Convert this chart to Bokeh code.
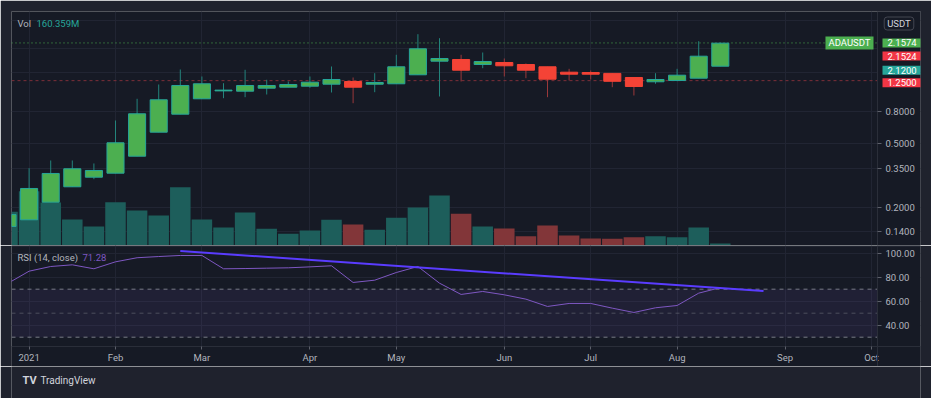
from bokeh.plotting import figure
from bokeh.layouts import column
from bokeh.models import (Range1d, LinearScale, FixedTicker, PrintfTickFormatter, Span,
                          Label, BoxAnnotation, ColumnDataSource, Grid)
from bokeh.embed import file_html
from bokeh.resources import INLINE

# ---------------- data (weekly Heikin-Ashi candles, ADAUSDT) ----------------
weeks = ["2020-12-28", "2021-01-04", "2021-01-11", "2021-01-18", "2021-01-25", "2021-02-01",
         "2021-02-08", "2021-02-15", "2021-02-22", "2021-03-01", "2021-03-08", "2021-03-15",
         "2021-03-22", "2021-03-29", "2021-04-05", "2021-04-12", "2021-04-19", "2021-04-26",
         "2021-05-03", "2021-05-10", "2021-05-17", "2021-05-24", "2021-05-31", "2021-06-07",
         "2021-06-14", "2021-06-21", "2021-06-28", "2021-07-05", "2021-07-12", "2021-07-19",
         "2021-07-26", "2021-08-02", "2021-08-09", "2021-08-16"]
opens = [0.1515, 0.1669, 0.2153, 0.2690, 0.3091, 0.3276, 0.4189, 0.5929, 0.7694, 0.9614,
         1.0780, 1.0732, 1.1208, 1.1372, 1.1537, 1.1876, 1.2349, 1.1876, 1.1945, 1.3607,
         1.6566, 1.6978, 1.5794, 1.6257, 1.5794, 1.5278, 1.4129, 1.4067, 1.3886, 1.3085,
         1.2296, 1.2529, 1.2953, 1.5410]
highs = [0.1900, 0.3522, 0.3937, 0.3937, 0.3770, 0.7023, 0.9614, 1.1824, 1.4691, 1.3276,
         1.2049, 1.4628, 1.2657, 1.2349, 1.3276, 1.5343, 1.3085, 1.3925, 1.8174, 2.4486,
         2.3110, 1.8174, 1.8788, 1.7226, 1.6023, 1.5278, 1.4840, 1.4479, 1.3886, 1.3085,
         1.3925, 1.4840, 2.2128, 2.1650]
lows = [0.1515, 0.1669, 0.2153, 0.2690, 0.3003, 0.3276, 0.4189, 0.5929, 0.7694, 0.9614,
        0.9698, 0.9839, 1.0231, 1.1372, 1.1273, 1.0532, 0.9021, 1.0578, 1.1945, 1.3607,
        0.9940, 1.2349, 1.4970, 1.3276, 1.2953, 0.9839, 1.2529, 1.2712, 1.1372, 1.0084,
        1.1945, 1.2400, 1.2953, 1.5410]
closes = [0.1800, 0.2625, 0.3262, 0.3491, 0.3406, 0.5086, 0.7738, 0.9476, 1.1655, 1.1945,
          1.0900, 1.1655, 1.1655, 1.1824, 1.2225, 1.2712, 1.1372, 1.2172, 1.5278, 1.9823,
          1.7226, 1.4543, 1.6494, 1.5500, 1.4543, 1.2767, 1.3726, 1.3726, 1.2386, 1.1487,
          1.2712, 1.3529, 1.7810, 2.1500]
volumes_m = [2700, 4340, 3440, 2080, 1520, 3460, 2800, 2400, 4660, 2080,
             1440, 2640, 1340, 940, 1200, 2060, 1680, 1260, 2220, 3040,
             4000, 2540, 1520, 1360, 740, 1600, 800, 560, 540, 660,
             740, 660, 1440, 160.359]
rsi = [74.7, 85.0, 88.9, 90.3, 87.0, 92.8, 96.2, 97.2, 98.1, 98.1,
       87.0, 87.2, 87.5, 87.8, 88.6, 89.5, 75.6, 77.5, 83.9, 88.9,
       75.0, 65.6, 68.1, 65.3, 61.7, 55.6, 58.1, 58.1, 54.2, 50.6,
       54.5, 56.4, 66.7, 71.28]
trend_x = [8, 35]
trend_y = [101.8, 68.4]

month_ticks = [1, 5, 9, 14, 18, 23, 27, 31, 36, 40]
month_labels = ["2021", "Feb", "Mar", "Apr", "May", "Jun", "Jul", "Aug", "Sep", "Oct"]
price_ticks = [0.14, 0.2, 0.35, 0.5, 0.8]
price_grid = [0.14, 0.2, 0.35, 0.5, 0.8, 1.4, 2.0, 3.0]
rsi_ticks = [40, 60, 80, 100]
rsi_levels = [70, 50, 30]
symbol = "ADAUSDT"
currency = "USDT"
last_price = 2.1574
tag_values = [2.1574, 2.1524, 2.1200, 1.2500]
alert_level = 1.25

# ---------------- styles / geometry ----------------
BG = "#161a25"
OUTER = "#1f222d"
GRID = "#212533"
AXIS = "#2a2e39"
TXT = "#b2b5be"
FONT = "Roboto"
FS = "9.5px"
UP, DOWN = "#4caf50", "#f44336"
UP_LINE, DOWN_LINE = "#26a69a", "#f44336"
UP_WICK, DOWN_WICK = "#23847c", "#9a383a"
VOL_UP, VOL_DOWN = "#1d5e5b", "#823639"

X_START, X_END = 0.185, 42.268      # visible bar-index window (incl. price-scale strip)
SCALE_X = 40.278                     # bar-index where the price scale begins
RSI_LOW = 22.25                      # RSI value at the time-axis line

LABEL_PROPS = Label.properties()


def mk_label(pad=None, radius=None, **kw):
    lab = Label(**{k: v for k, v in kw.items() if k in LABEL_PROPS})
    if pad is not None and "padding" in LABEL_PROPS:
        h, v = pad
        for cand in (dict(left=h, right=h, top=v, bottom=v), dict(x=h, y=v), (v, h)):
            try:
                lab.padding = cand
                break
            except Exception:
                pass
    if radius is not None and "border_radius" in LABEL_PROPS:
        try:
            lab.border_radius = radius
        except Exception:
            pass
    return lab


def style_axis(ax, tick_out):
    ax.axis_line_color = AXIS
    ax.major_tick_line_color = "#5d606b"
    ax.major_tick_in = 0
    ax.major_tick_out = tick_out
    ax.minor_tick_line_color = None
    ax.major_label_text_color = TXT
    ax.major_label_text_font = FONT
    ax.major_label_text_font_size = FS


n = len(weeks)
idx = list(range(n))
up = [c >= o for o, c in zip(opens, closes)]
src = ColumnDataSource(dict(
    x=idx, o=opens, h=highs, l=lows, c=closes,
    btop=[max(o, c) for o, c in zip(opens, closes)],
    bbot=[min(o, c) for o, c in zip(opens, closes)],
    bcol=[UP if u else DOWN for u in up],
    lcol=[UP_LINE if u else DOWN_LINE for u in up],
    wcol=[UP_WICK if u else DOWN_WICK for u in up],
    vol=volumes_m,
    vcol=[VOL_UP if u else VOL_DOWN for u in up],
))

# ---------------- main pane ----------------
p1 = figure(width=931, height=245, x_range=Range1d(X_START, X_END),
            y_range=Range1d(0.115, 3.401), y_axis_type="log",
            x_axis_location=None, y_axis_location="right",
            output_backend="svg", toolbar_location=None,
            min_border_left=11, min_border_right=11, min_border_top=11, min_border_bottom=0,
            background_fill_color=BG, border_fill_color=OUTER, outline_line_color=None)
p1.extra_y_ranges = {"vol": Range1d(0, 18720)}
p1.extra_y_scales = {"vol": LinearScale()}
for g in p1.grid:
    g.visible = False
p1.add_layout(Grid(dimension=0, ticker=FixedTicker(ticks=month_ticks), grid_line_color=GRID))
p1.add_layout(Grid(dimension=1, ticker=FixedTicker(ticks=price_grid), grid_line_color=GRID))

ya = p1.yaxis[0]
ya.fixed_location = SCALE_X
ya.ticker = FixedTicker(ticks=price_ticks)
ya.formatter = PrintfTickFormatter(format="%.4f")
style_axis(ya, 4)
ya.major_label_standoff = 4

p1.add_layout(Span(location=alert_level, dimension="width", line_color="#7d2f39",
                   line_dash="3 3", line_width=1, level="underlay"))
p1.add_layout(Span(location=last_price, dimension="width", line_color="#4caf50",
                   line_dash="1 3", line_width=1, level="underlay"))
# price-scale strip background
p1.add_layout(BoxAnnotation(left=SCALE_X, fill_color=BG, fill_alpha=1, line_alpha=0,
                            level="underlay"))

p1.vbar(x="x", top="vol", bottom=0, width=0.95, y_range_name="vol",
        fill_color="vcol", line_color=None, source=src)
p1.segment(x0="x", y0="l", x1="x", y1="h", line_color="wcol", line_width=1, source=src)
p1.vbar(x="x", top="btop", bottom="bbot", width=0.79, fill_color="bcol",
        line_color="lcol", line_width=1, source=src)

# legend-like texts
p1.add_layout(mk_label(x=6, y=222, x_units="screen", y_units="screen", text="Vol",
                       text_color=TXT, text_font=FONT, text_font_size=FS,
                       text_baseline="middle", level="overlay"))
p1.add_layout(mk_label(x=25, y=222, x_units="screen", y_units="screen",
                       text=f"{volumes_m[-1]:.3f}M", text_color="#26a69a", text_font=FONT,
                       text_font_size=FS, text_baseline="middle", level="overlay"))
p1.add_layout(mk_label(x=887.5, y=222, x_units="screen", y_units="screen", text=currency,
                       text_color="#d1d4dc", text_font=FONT, text_font_size=FS,
                       text_align="center", text_baseline="middle",
                       background_fill_color=BG, border_line_color="#434651",
                       pad=(3, 1), radius=3, level="overlay"))

# price tags on the price scale
tag_colors = ["#4caf50", "#f23645", "#26a69a", "#f23645"]
tag_offsets = [0, -13, -26, -2]
p1.add_layout(mk_label(x=862, y=last_price, x_units="screen", text=symbol,
                       text_color="#ffffff", text_font=FONT, text_font_size=FS,
                       text_align="right", text_baseline="middle",
                       background_fill_color="#4caf50", pad=(3, 1), level="overlay"))
for v, col, off in zip(tag_values, tag_colors, tag_offsets):
    p1.add_layout(mk_label(x=871, y=v, x_units="screen", y_offset=off, text=f"{v:.4f}",
                           text_color="#ffffff", text_font=FONT, text_font_size=FS,
                           text_align="left", text_baseline="middle",
                           background_fill_color=col, pad=(5, 1), level="overlay"))

# ---------------- RSI pane ----------------
p2 = figure(width=931, height=121, x_range=p1.x_range, y_range=Range1d(5.58, 106.4),
            y_axis_location="right", output_backend="svg", toolbar_location=None,
            min_border_left=11, min_border_right=11, min_border_top=0, min_border_bottom=0,
            background_fill_color=BG, border_fill_color=OUTER, outline_line_color=None)
for g in p2.grid:
    g.visible = False
p2.add_layout(Grid(dimension=0, ticker=FixedTicker(ticks=month_ticks), grid_line_color=GRID))
p2.add_layout(Grid(dimension=1, ticker=FixedTicker(ticks=rsi_ticks), grid_line_color=GRID))

xa = p2.xaxis[0]
xa.fixed_location = RSI_LOW
xa.ticker = FixedTicker(ticks=month_ticks)
xa.major_label_overrides = {t: lab for t, lab in zip(month_ticks, month_labels)}
style_axis(xa, 3)
xa.major_label_standoff = 3

ya2 = p2.yaxis[0]
ya2.fixed_location = SCALE_X
ya2.ticker = FixedTicker(ticks=rsi_ticks)
ya2.formatter = PrintfTickFormatter(format="%.2f")
style_axis(ya2, 4)
ya2.major_label_standoff = 4

p2.add_layout(BoxAnnotation(bottom=rsi_levels[2], top=rsi_levels[0], right=SCALE_X,
                            fill_color="#7e57c2", fill_alpha=0.1, line_alpha=0,
                            level="underlay"))
for lv, a in zip(rsi_levels, [1.0, 0.5, 1.0]):
    p2.add_layout(Span(location=lv, dimension="width", line_color="#787b86", line_alpha=a,
                       line_dash="4 4", level="underlay"))
p2.add_layout(BoxAnnotation(left=SCALE_X, fill_color=BG, fill_alpha=1, line_alpha=0,
                            level="underlay"))
p2.add_layout(BoxAnnotation(top=RSI_LOW, fill_color=BG, fill_alpha=1, line_alpha=0,
                            level="underlay"))
p2.add_layout(Span(location=105.9, dimension="width", line_color=AXIS, line_width=1))

p2.line(idx, rsi, line_color="#7e57c2", line_width=1)
p2.line(trend_x, trend_y, line_color="#5a3cff", line_width=2)

p2.add_layout(mk_label(x=6, y=109, x_units="screen", y_units="screen", text="RSI (14, close)",
                       text_color=TXT, text_font=FONT, text_font_size=FS,
                       text_baseline="middle", level="overlay"))
p2.add_layout(mk_label(x=71, y=109, x_units="screen", y_units="screen", text=f"{rsi[-1]:.2f}",
                       text_color="#7e57c2", text_font=FONT, text_font_size=FS,
                       text_baseline="middle", level="overlay"))

# ---------------- footer ----------------
p3 = figure(width=931, height=32, x_range=Range1d(0, 1), y_range=Range1d(0, 1),
            x_axis_location=None, y_axis_location=None, output_backend="svg",
            toolbar_location=None, min_border=0, background_fill_color=OUTER,
            border_fill_color=OUTER, outline_line_color=None)
for g in p3.grid:
    g.visible = False
p3.add_layout(mk_label(x=11, y=18, x_units="screen", y_units="screen", text="TV",
                       text_color="#d1d4dc", text_font=FONT, text_font_size="11px",
                       text_font_style="bold", text_baseline="middle"))
p3.add_layout(mk_label(x=29, y=18, x_units="screen", y_units="screen", text="TradingView",
                       text_color="#d1d4dc", text_font=FONT, text_font_size="10px",
                       text_baseline="middle"))

layout = column(p1, p2, p3, spacing=0)
open("out.html", "w").write(file_html(layout, INLINE))
